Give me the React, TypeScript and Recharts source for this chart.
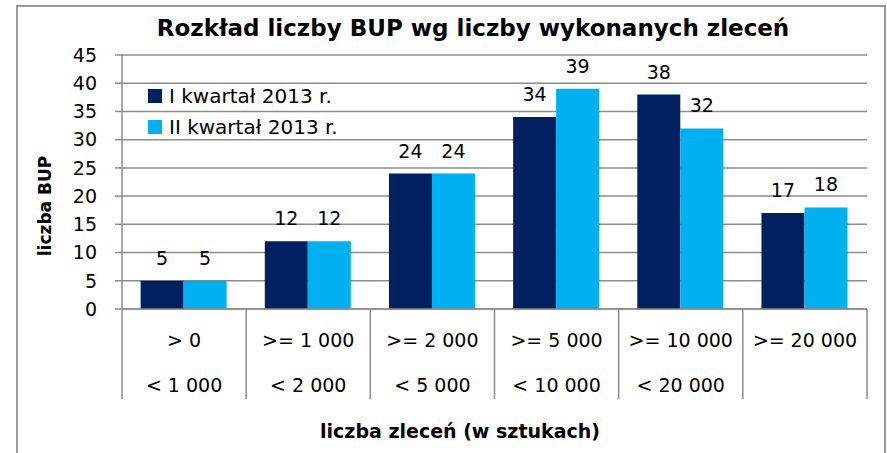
import { BarChart, Bar, XAxis, YAxis, CartesianGrid, Legend, LabelList, Label } from 'recharts';

const rowTop = ['> 0', '>= 1 000', '>= 2 000', '>= 5 000', '>= 10 000', '>= 20 000'];
const rowBottom = ['< 1 000', '< 2 000', '< 5 000', '< 10 000', '< 20 000', ''];
const q1 = [5, 12, 24, 34, 38, 17];
const q2 = [5, 12, 24, 39, 32, 18];
const yTicks = [0, 5, 10, 15, 20, 25, 30, 35, 40, 45];
const seriesNames = ['I kwartał 2013 r.', 'II kwartał 2013 r.'];
const colors = ['#002060', '#00B0F0'];

const data = rowTop.map((t, i) => ({ key: `c${i}`, top: t, bottom: rowBottom[i], q1: q1[i], q2: q2[i] }));

const W = 887;
const H = 453;
const FONT = '"DejaVu Sans", sans-serif';
const GRID = '#8c8c8c';
const PLOT_LEFT = 122;
const PLOT_RIGHT = 867;
const STEP = (PLOT_RIGHT - PLOT_LEFT) / data.length;

function CatTick(props: any) {
  const { x, y, index } = props;
  const d = data[index];
  const left = x - STEP / 2;
  const right = x + STEP / 2;
  return (
    <g>
      <line x1={left} y1={y} x2={left} y2={y + 90} stroke={GRID} strokeWidth={1.5} />
      {index === data.length - 1 && <line x1={right} y1={y} x2={right} y2={y + 90} stroke={GRID} strokeWidth={1.5} />}
      <text x={x} y={y + 38} textAnchor="middle" fontSize={19} fill="#000" fontFamily={FONT}>{d.top}</text>
      <text x={x} y={y + 83} textAnchor="middle" fontSize={19} fill="#000" fontFamily={FONT}>{d.bottom}</text>
    </g>
  );
}

function LegendBox() {
  return (
    <div style={{ fontFamily: FONT, fontSize: 20, color: '#000' }}>
      {seriesNames.map((n, i) => (
        <div key={n} style={{ display: 'flex', alignItems: 'center', height: 31 }}>
          <span style={{ width: 14, height: 14, background: colors[i], marginRight: 7, display: 'inline-block' }} />
          <span>{n}</span>
        </div>
      ))}
    </div>
  );
}

export default function App() {
  return (
    <div style={{ position: 'absolute', left: 0, top: 0, width: W, height: H, background: '#fff', overflow: 'hidden' }}>
      <div style={{ position: 'absolute', left: 16, top: 5, width: 866, height: 460, border: '2px solid #9a9a9a' }} />
      <div style={{ position: 'absolute', left: 0, width: 946, top: 15, textAlign: 'center', fontFamily: FONT, fontWeight: 700, fontSize: 23, color: '#000' }}>
        Rozkład liczby BUP wg liczby wykonanych zleceń
      </div>
      <div style={{ position: 'absolute', left: 0, top: 0 }}>
        <BarChart width={W} height={H} data={data} margin={{ top: 55, right: 20, left: 0, bottom: 0 }} barGap={0} barCategoryGap="15%">
          <CartesianGrid vertical={false} stroke={GRID} strokeWidth={1.5} />
          <XAxis dataKey="key" height={144} tickLine={false} tickSize={0} tickMargin={0} axisLine={{ stroke: GRID, strokeWidth: 1.5 }} tick={<CatTick />} interval={0}>
            <Label
              content={() => (
                <text x={460} y={438} textAnchor="middle" fontSize={19} fontWeight={700} fill="#000" fontFamily={FONT}>
                  liczba zleceń (w sztukach)
                </text>
              )}
            />
          </XAxis>
          <YAxis width={122} domain={[0, 45]} ticks={yTicks} interval={0} tickSize={7} tickMargin={18} axisLine={{ stroke: GRID, strokeWidth: 1.5 }} tickLine={{ stroke: GRID, strokeWidth: 1.5 }} tick={{ fontSize: 19, fill: '#000', fontFamily: FONT }}>
            <Label
              content={() => (
                <text x={0} y={0} transform="translate(51, 206) rotate(-90)" textAnchor="middle" fontSize={17} fontWeight={700} fill="#000" fontFamily={FONT}>
                  liczba BUP
                </text>
              )}
            />
          </YAxis>
          <Legend layout="vertical" align="center" verticalAlign="middle" content={<LegendBox />} wrapperStyle={{ position: 'absolute', left: 148, top: 80, width: 240 }} />
          <Bar dataKey="q1" name={seriesNames[0]} fill={colors[0]} isAnimationActive={false}>
            <LabelList dataKey="q1" position="top" offset={16} fontSize={19} fill="#000" fontFamily={FONT} />
          </Bar>
          <Bar dataKey="q2" name={seriesNames[1]} fill={colors[1]} isAnimationActive={false}>
            <LabelList dataKey="q2" position="top" offset={16} fontSize={19} fill="#000" fontFamily={FONT} />
          </Bar>
        </BarChart>
      </div>
    </div>
  );
}
